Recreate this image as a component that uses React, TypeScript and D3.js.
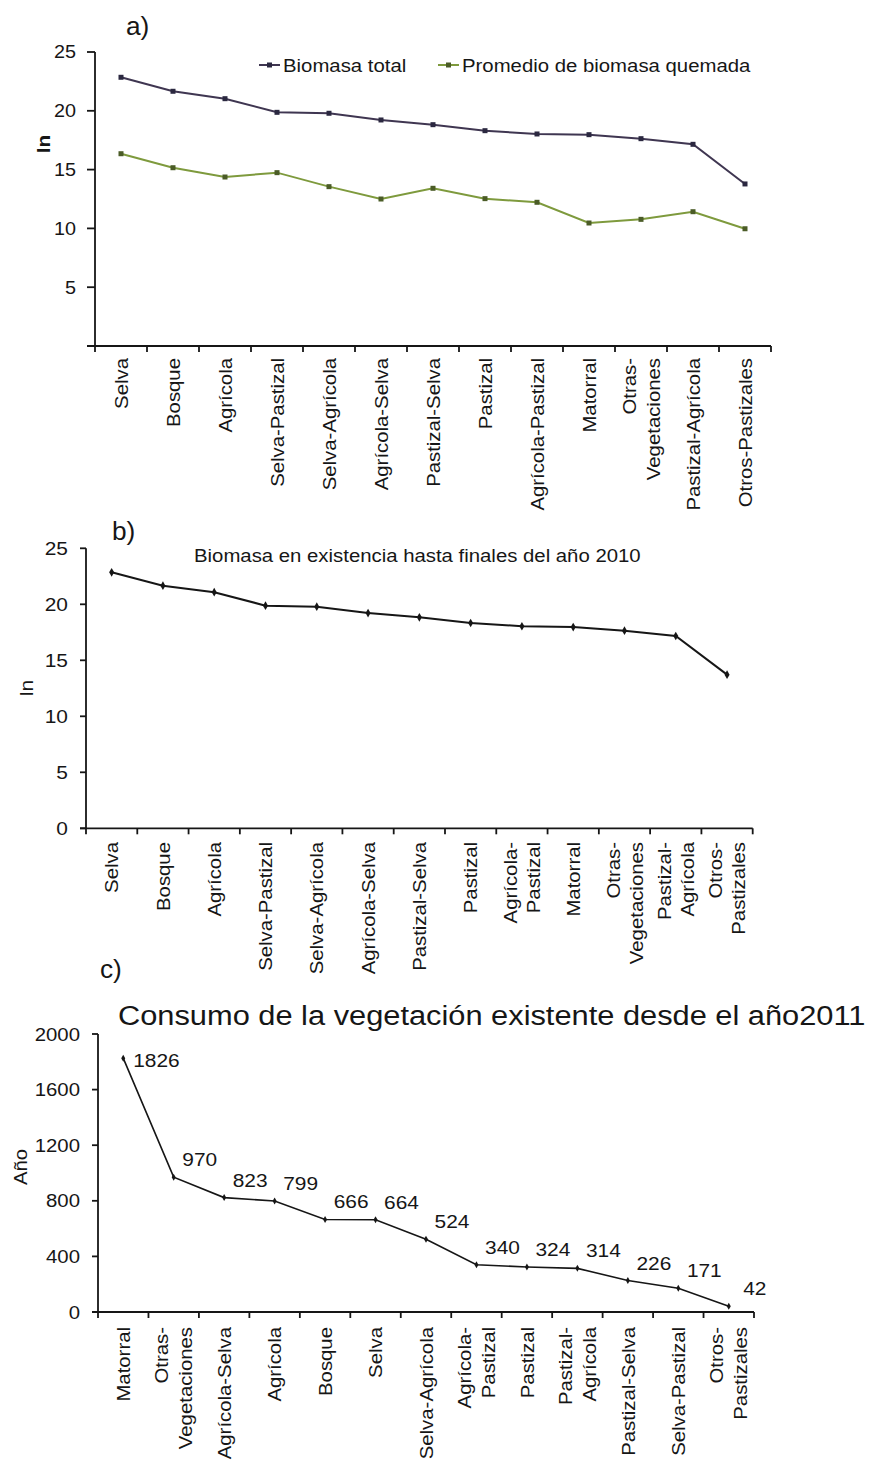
import React from "react";
import * as d3 from "d3";

// ---------- DATA ----------
const categoriesA = [
  "Selva", "Bosque", "Agrícola", "Selva-Pastizal", "Selva-Agrícola", "Agrícola-Selva",
  "Pastizal-Selva", "Pastizal", "Agrícola-Pastizal", "Matorral", "Otras-\nVegetaciones",
  "Pastizal-Agrícola", "Otros-Pastizales",
];
const biomasaTotal = [22.85, 21.66, 21.03, 19.87, 19.79, 19.22, 18.82, 18.31, 18.03, 17.97, 17.63, 17.15, 13.78];
const biomasaQuemada = [16.35, 15.16, 14.37, 14.74, 13.55, 12.5, 13.41, 12.53, 12.22, 10.46, 10.77, 11.42, 9.97];
const ticksA = [5, 10, 15, 20, 25];

const categoriesB = [
  "Selva", "Bosque", "Agrícola", "Selva-Pastizal", "Selva-Agrícola", "Agrícola-Selva",
  "Pastizal-Selva", "Pastizal", "Agrícola-\nPastizal", "Matorral", "Otras-\nVegetaciones",
  "Pastizal-\nAgrícola", "Otros-\nPastizales",
];
const biomasaExistencia = [22.86, 21.66, 21.08, 19.88, 19.79, 19.22, 18.84, 18.33, 18.04, 17.97, 17.64, 17.17, 13.72];
const ticksB = [0, 5, 10, 15, 20, 25];

const categoriesC = [
  "Matorral", "Otras-\nVegetaciones", "Agrícola-Selva", "Agrícola", "Bosque", "Selva",
  "Selva-Agrícola", "Agrícola-\nPastizal", "Pastizal", "Pastizal-\nAgrícola", "Pastizal-Selva",
  "Selva-Pastizal", "Otros-\nPastizales",
];
const consumoAnios = [1826, 970, 823, 799, 666, 664, 524, 340, 324, 314, 226, 171, 42];
const ticksC = [0, 400, 800, 1200, 1600, 2000];

// ---------- STYLE ----------
const FONT = "'Liberation Sans', Arial, Helvetica, sans-serif";
const SX = 1.1;
const INK = "#161616";
const PURPLE = "#3f3651";
const PURPLE_MK = "#2b2840";
const GREEN = "#7e9a3d";
const GREEN_MK = "#4b5c27";

type TP = {
  x: number; y: number; r?: number; size: number; anchor?: string;
  weight?: string | number; dy?: string; children: React.ReactNode; sx?: number;
};
function T({ x, y, r = 0, size, anchor = "start", weight = "normal", dy, children, sx = SX }: TP) {
  return (
    <text
      transform={`translate(${x},${y}) rotate(${r}) scale(${sx},1)`}
      fontSize={size}
      textAnchor={anchor as any}
      fontWeight={weight as any}
      dy={dy}
      fontFamily={FONT}
      fill={INK}
    >
      {children}
    </text>
  );
}

type AxesProps = {
  x: d3.ScaleBand<string>;
  y: d3.ScaleLinear<number, number>;
  cats: string[];
  ticks: number[];
  tickLabels: number[];
  tickLen: number;
  tickLabelGap: number;
  tickSize: number;
  catTop: number;
  catSize: number;
  lineGap: number;
};

function Axes({ x, y, cats, ticks, tickLabels, tickLen, tickLabelGap, tickSize, catTop, catSize, lineGap }: AxesProps) {
  const [x0, x1] = x.range();
  const y0 = y(0);
  const yTop = y(d3.max(ticks) as number);
  const step = x.step();
  const edges = d3.range(cats.length + 1).map((i) => x0 + i * step);
  return (
    <g>
      <line x1={x0} x2={x0} y1={yTop} y2={y0} stroke={INK} strokeWidth={1.8} />
      <line x1={x0 - tickLen} x2={x1} y1={y0} y2={y0} stroke={INK} strokeWidth={1.8} />
      {ticks.map((t) => (
        <line key={"yt" + t} x1={x0 - tickLen} x2={x0} y1={y(t)} y2={y(t)} stroke={INK} strokeWidth={1.8} />
      ))}
      {tickLabels.map((t) => (
        <T key={"yl" + t} x={x0 - tickLen - tickLabelGap} y={y(t)} size={tickSize} anchor="end" dy="0.36em">
          {t}
        </T>
      ))}
      {edges.map((e, i) => (
        <line key={"xt" + i} x1={e} x2={e} y1={y0} y2={y0 + 6} stroke={INK} strokeWidth={1.8} />
      ))}
      {cats.map((c) => {
        const lines = c.split("\n");
        const cx = (x(c) as number) + x.bandwidth() / 2;
        return lines.map((ln, j) => (
          <T
            key={c + j}
            x={cx + (j - (lines.length - 1) / 2) * lineGap}
            y={catTop}
            r={-90}
            size={catSize}
            anchor="end"
            dy="0.36em"
          >
            {ln}
          </T>
        ));
      })}
    </g>
  );
}

export default function App() {
  // ---------- Panel a ----------
  const xA = d3.scaleBand<string>().domain(categoriesA).range([95, 771]);
  const yA = d3.scaleLinear().domain([0, 25]).range([346, 52]);
  const cxA = (i: number) => (xA(categoriesA[i]) as number) + xA.bandwidth() / 2;
  const lineA = d3.line<number>().x((_, i) => cxA(i)).y((d) => yA(d));

  // ---------- Panel b ----------
  const xB = d3.scaleBand<string>().domain(categoriesB).range([86, 752.7]);
  const yB = d3.scaleLinear().domain([0, 25]).range([828.3, 548.3]);
  const cxB = (i: number) => (xB(categoriesB[i]) as number) + xB.bandwidth() / 2;
  const lineB = d3.line<number>().x((_, i) => cxB(i)).y((d) => yB(d));

  // ---------- Panel c ----------
  const xC = d3.scaleBand<string>().domain(categoriesC).range([98, 754]);
  const yC = d3.scaleLinear().domain([0, 2000]).range([1312, 1034]);
  const cxC = (i: number) => (xC(categoriesC[i]) as number) + xC.bandwidth() / 2;
  const lineC = d3.line<number>().x((_, i) => cxC(i)).y((d) => yC(d));

  const diamond = d3.symbol().type(d3.symbolDiamond).size(22)() as string;
  const diamondSmall = d3.symbol().type(d3.symbolDiamond).size(14)() as string;
  const sq = 5;

  return (
    <svg
      width={875}
      height={1465}
      style={{ position: "absolute", left: 0, top: 0, background: "#fff", display: "block" }}
    >
      <rect x={0} y={0} width={875} height={1465} fill="#fff" />

      {/* ===== Panel a ===== */}
      <T x={126} y={35} size={25} sx={1.05}>a)</T>
      <Axes
        x={xA} y={yA} cats={categoriesA} ticks={[0, ...ticksA]} tickLabels={ticksA}
        tickLen={8} tickLabelGap={11} tickSize={18} catTop={358} catSize={18.5} lineGap={24}
      />
      <T x={43} y={144} r={-90} size={19} anchor="middle" weight="bold" dy="0.36em">ln</T>
      <path d={lineA(biomasaTotal) as string} fill="none" stroke={PURPLE} strokeWidth={2} />
      <path d={lineA(biomasaQuemada) as string} fill="none" stroke={GREEN} strokeWidth={2} />
      {biomasaTotal.map((v, i) => (
        <rect key={"pt" + i} x={cxA(i) - sq / 2} y={yA(v) - sq / 2} width={sq} height={sq} fill={PURPLE_MK} />
      ))}
      {biomasaQuemada.map((v, i) => (
        <rect key={"pq" + i} x={cxA(i) - sq / 2} y={yA(v) - sq / 2} width={sq} height={sq} fill={GREEN_MK} />
      ))}
      {/* legend */}
      <line x1={259} x2={280} y1={65} y2={65} stroke={PURPLE} strokeWidth={2} />
      <rect x={269.5 - sq / 2} y={65 - sq / 2} width={sq} height={sq} fill={PURPLE_MK} />
      <T x={283} y={72} size={18.5}>Biomasa total</T>
      <line x1={438} x2={459} y1={65} y2={65} stroke={GREEN} strokeWidth={2} />
      <rect x={448.5 - sq / 2} y={65 - sq / 2} width={sq} height={sq} fill={GREEN_MK} />
      <T x={462} y={72} size={18.5}>Promedio de biomasa quemada</T>

      {/* ===== Panel b ===== */}
      <T x={112} y={540} size={25} sx={1.05}>b)</T>
      <T x={194} y={562} size={18.5}>Biomasa en existencia hasta finales del año 2010</T>
      <Axes
        x={xB} y={yB} cats={categoriesB} ticks={ticksB} tickLabels={ticksB}
        tickLen={6} tickLabelGap={12} tickSize={19} catTop={842} catSize={18.5} lineGap={23}
      />
      <T x={26} y={688} r={-90} size={19} anchor="middle" dy="0.36em">ln</T>
      <path d={lineB(biomasaExistencia) as string} fill="none" stroke={INK} strokeWidth={2} />
      {biomasaExistencia.map((v, i) => (
        <path key={"pb" + i} d={diamond} transform={`translate(${cxB(i)},${yB(v)})`} fill={INK} />
      ))}

      {/* ===== Panel c ===== */}
      <T x={100} y={978} size={25} sx={1.05}>c)</T>
      <T x={118} y={1025} size={28}>Consumo de la vegetación existente desde el año2011</T>
      <Axes
        x={xC} y={yC} cats={categoriesC} ticks={ticksC} tickLabels={ticksC}
        tickLen={6} tickLabelGap={12} tickSize={18.5} catTop={1327} catSize={18.5} lineGap={24}
      />
      <T x={20} y={1167} r={-90} size={18.5} anchor="middle" dy="0.36em">Año</T>
      <path d={lineC(consumoAnios) as string} fill="none" stroke={INK} strokeWidth={1.6} />
      {consumoAnios.map((v, i) => (
        <path key={"pc" + i} d={diamondSmall} transform={`translate(${cxC(i)},${yC(v)})`} fill={INK} />
      ))}
      {consumoAnios.map((v, i) =>
        i === 0 ? (
          <T key={"lc" + i} x={cxC(i) + 10} y={yC(v) + 9} size={19}>{v}</T>
        ) : (
          <T key={"lc" + i} x={cxC(i) + 26} y={yC(v) - 11} size={19} anchor="middle">{v}</T>
        )
      )}
    </svg>
  );
}
